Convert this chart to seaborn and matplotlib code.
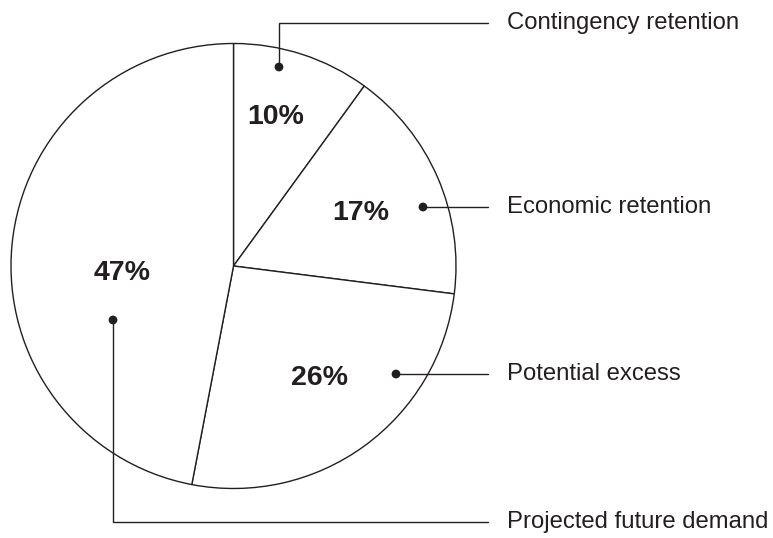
import matplotlib
matplotlib.use("Agg")
import matplotlib.pyplot as plt
import seaborn as sns
import pandas as pd

# Reserve breakdown
categories = ["Contingency retention", "Economic retention", "Potential excess", "Projected future demand"]
shares = [10, 17, 26, 47]

sns.set_theme(style="white")
plt.rcParams["font.family"] = ["Liberation Sans", "DejaVu Sans"]

W, H = 773, 538
fig = plt.figure(figsize=(W / 100, H / 100), dpi=100)
ax = fig.add_axes([0, 0, 1, 1])

ink = "#231f20"
center = (233.5, 272)
radius = 222.5

ax.pie(shares, startangle=90, counterclock=False, center=center, radius=radius,
       colors=["white"] * len(shares),
       wedgeprops=dict(edgecolor=ink, linewidth=1.0))

# Percentage labels inside each wedge
pct_pos = [(276, 421), (361, 325), (320, 160), (122, 265)]
for (x, y), v in zip(pct_pos, shares):
    ax.text(x, y, f"{v}%", ha="center", va="center", fontsize=20.5,
            fontweight="bold", color=ink)

# Leader lines from a dot in each wedge to its category name
leaders = [
    [(279, 471), (279, 515), (488, 515)],
    [(423, 331), (488, 331)],
    [(396, 164), (488, 164)],
    [(113, 218), (113, 16), (488, 16)],
]
for pts, name in zip(leaders, categories):
    xs, ys = zip(*pts)
    ax.plot(xs, ys, color=ink, linewidth=1.0, solid_joinstyle="miter")
    ax.text(xs[-1] + 19, ys[-1], name, ha="left", va="center",
            fontsize=17.2, color=ink)

dots = pd.DataFrame({"x": [p[0][0] for p in leaders],
                     "y": [p[0][1] for p in leaders],
                     "category": categories})
sns.scatterplot(data=dots, x="x", y="y", ax=ax, s=40, color=ink,
                edgecolor="none", legend=False, zorder=5)

ax.set_xlim(0, W)
ax.set_ylim(0, H)
ax.set_aspect("equal")
ax.axis("off")

fig.savefig("out.png", dpi=100, facecolor="white")
